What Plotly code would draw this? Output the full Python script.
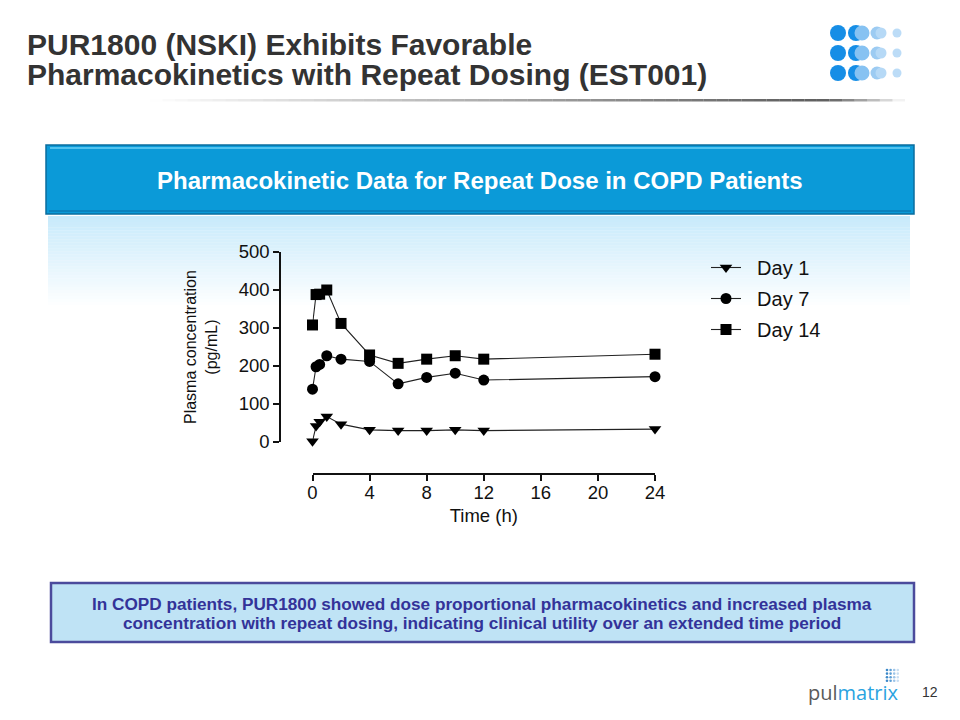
import plotly.graph_objects as go

# ---------------- data ----------------
time_h = [0, 0.25, 0.5, 1, 2, 4, 6, 8, 10, 12, 24]
day1 = [2, 42, 53, 67, 47, 32, 30, 30, 32, 30, 34]
day7 = [139, 198, 204, 227, 218, 212, 153, 170, 181, 163, 172]
day14 = [308, 388, 389, 400, 312, 229, 207, 218, 227, 218, 231]
series_names = ["Day 1", "Day 7", "Day 14"]
x_ticks = [0, 4, 8, 12, 16, 20, 24]
y_ticks = [0, 100, 200, 300, 400, 500]

W, H = 960, 720
FONT = "Arial, Liberation Sans, Helvetica, sans-serif"


def px(x):
    return x / W


def py(y):
    return 1 - y / H


fig = go.Figure()

symbols = ["triangle-down", "circle", "square"]
sizes = [11, 11, 11]
for name, vals, sym, sz in zip(series_names, [day1, day7, day14], symbols, sizes):
    fig.add_trace(go.Scatter(
        x=time_h, y=vals, name="\u00a0\u00a0" + name, mode="lines+markers",
        line=dict(color="#222222", width=1.1),
        marker=dict(symbol=sym, size=sz, color="#000000"),
        cliponaxis=False, legendgroup=name,
    ))

shapes = []
annotations = []

# title underline (gradient grey)
x0, x1 = 150, 905
n = 60
for i in range(n):
    xa = x0 + (x1 - x0) * i / n
    xb = x0 + (x1 - x0) * (i + 1) / n
    xm = (xa + xb) / 2
    if xm < 790:
        a = (xm - x0) / (790 - x0)
    elif xm < 830:
        a = 1.0
    else:
        a = max(0.0, 1 - (xm - 830) / (x1 - 830))
    shapes.append(dict(type="rect", xref="paper", yref="paper",
                       x0=px(xa), x1=px(xb), y0=py(101.5), y1=py(99),
                       fillcolor=f"rgba(80,80,80,{a*0.9:.3f})", line=dict(width=0), layer="below"))

# light blue fade below banner
top, bottom = 216, 305
steps = 30
for i in range(steps):
    ya = top + (bottom - top) * i / steps
    yb = top + (bottom - top) * (i + 1) / steps
    a = 1 - i / steps
    shapes.append(dict(type="rect", xref="paper", yref="paper",
                       x0=px(48), x1=px(910), y0=py(yb), y1=py(ya),
                       fillcolor=f"rgba(200,234,251,{a:.3f})", line=dict(width=0), layer="below"))

# banner
shapes.append(dict(type="rect", xref="paper", yref="paper",
                   x0=px(46), x1=px(914), y0=py(214), y1=py(145),
                   fillcolor="#0b9ad8", line=dict(color="#0a6d9e", width=1.5), layer="below"))
shapes.append(dict(type="line", xref="paper", yref="paper",
                   x0=px(50), x1=px(910), y0=py(148), y1=py(148),
                   line=dict(color="#52c3ef", width=2), layer="below"))
shapes.append(dict(type="line", xref="paper", yref="paper",
                   x0=px(49), x1=px(911), y0=py(211), y1=py(211),
                   line=dict(color="#0a82bd", width=2), layer="below"))

# bottom box
shapes.append(dict(type="rect", xref="paper", yref="paper",
                   x0=px(51), x1=px(914), y0=py(642), y1=py(583),
                   fillcolor="#bfe3f5", line=dict(color="#4b4b9c", width=2.5), layer="below"))

# logo dots top-right
dot_rows = [33, 53, 73]
for yy in dot_rows:
    for cx, r, col in [(838, 8, "#168ee6"), (856, 8, "#168ee6"), (862, 7.5, "#86c2f2"),
                       (877, 6.5, "#9ccbf2"), (881, 5.5, "#b6d9f6"), (897, 4.5, "#bcdcf7")]:
        shapes.append(dict(type="circle", xref="paper", yref="paper",
                           x0=px(cx - r), x1=px(cx + r), y0=py(yy + r), y1=py(yy - r),
                           fillcolor=col, line=dict(width=0), layer="below"))

# small dot grid of pulmatrix logo
for ri in range(4):
    for ci in range(4):
        cx = 887 + ci * 3.6
        cy = 670 + ri * 3.6
        col = ["#3b88c8", "#5d9fd6", "#9cc4e8", "#c8def2"][ci]
        shapes.append(dict(type="circle", xref="paper", yref="paper",
                           x0=px(cx - 1.3), x1=px(cx + 1.3), y0=py(cy + 1.3), y1=py(cy - 1.3),
                           fillcolor=col, line=dict(width=0)))

# title (two lines)
for txt, yc in [("PUR1800 (NSKI) Exhibits Favorable", 44),
                ("Pharmacokinetics with Repeat Dosing (EST001)", 75)]:
    annotations.append(dict(
        xref="paper", yref="paper", x=px(26), y=py(yc), xanchor="left", yanchor="middle",
        text=f"<b>{txt}</b>", showarrow=False, align="left", borderpad=0,
        font=dict(family=FONT, size=30, color="#333333")))

# banner text
annotations.append(dict(
    xref="paper", yref="paper", x=px(480), y=py(180), xanchor="center", yanchor="middle",
    text="<b>Pharmacokinetic Data for Repeat Dose in COPD Patients</b>",
    showarrow=False, font=dict(family=FONT, size=24, color="#ffffff")))

# bottom box text
for txt, yc in [("In COPD patients, PUR1800 showed dose proportional pharmacokinetics and increased plasma", 604),
                ("concentration with repeat dosing, indicating clinical utility over an extended time period", 623)]:
    annotations.append(dict(
        xref="paper", yref="paper", x=px(482), y=py(yc), xanchor="center", yanchor="middle",
        text=f"<b>{txt}</b>", showarrow=False, align="center", borderpad=0,
        font=dict(family=FONT, size=17.2, color="#333399")))

# y axis title
annotations.append(dict(
    xref="paper", yref="paper", x=px(201), y=py(347), xanchor="center", yanchor="middle",
    text="Plasma concentration<br>(pg/mL)", textangle=-90, showarrow=False, align="center",
    font=dict(family=FONT, size=16, color="#111111")))

# pulmatrix wordmark & page number
annotations.append(dict(
    xref="paper", yref="paper", x=px(806), y=py(692), xanchor="left", yanchor="middle",
    text="<span style='color:#5a5a5a'>pul</span><span style='color:#2aa3df'>matrix</span>",
    showarrow=False, font=dict(family="Open Sans, Lato, sans-serif", size=20)))
annotations.append(dict(
    xref="paper", yref="paper", x=px(930), y=py(692), xanchor="center", yanchor="middle",
    text="12", showarrow=False, font=dict(family=FONT, size=14, color="#333333")))

fig.update_layout(
    width=W, height=H, autosize=False,
    margin=dict(l=0, r=0, t=0, b=0, pad=0, autoexpand=False),
    paper_bgcolor="#ffffff", plot_bgcolor="rgba(0,0,0,0)",
    shapes=shapes, annotations=annotations,
    showlegend=True,
    legend=dict(x=px(706), y=py(248), xanchor="left", yanchor="top",
                font=dict(family=FONT, size=20, color="#111111"),
                bgcolor="rgba(0,0,0,0)", tracegroupgap=2, traceorder="grouped"),
    xaxis=dict(domain=[px(312.5), px(655)], range=[0, 24], anchor="free", position=py(474),
               automargin=False,
               showline=True, linecolor="#111111", linewidth=1.5,
               ticks="outside", ticklen=6, tickwidth=1.5, tickcolor="#111111",
               tickvals=x_ticks, showgrid=False, zeroline=False, ticklabelstandoff=-4,
               tickfont=dict(family=FONT, size=18.5, color="#111111"),
               title=dict(text="Time (h)", font=dict(family=FONT, size=18.5, color="#111111"), standoff=6)),
    yaxis=dict(domain=[py(442), py(252)], range=[0, 500], anchor="free", position=px(280),
               automargin=False,
               showline=True, linecolor="#111111", linewidth=1.5,
               ticks="outside", ticklen=6, tickwidth=1.5, tickcolor="#111111",
               tickvals=y_ticks, showgrid=False, zeroline=False,
               tickfont=dict(family=FONT, size=18.5, color="#111111")),
)

fig.write_html("out.html", config={"displayModeBar": False},
               post_script="document.body.style.margin='0px';")
